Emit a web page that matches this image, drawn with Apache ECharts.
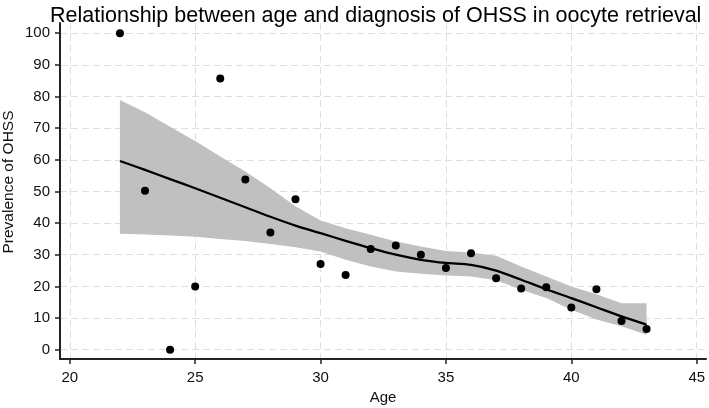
<!DOCTYPE html>
<html>
<head>
<meta charset="utf-8">
<script src="https://cdn.jsdelivr.net/npm/echarts@6/dist/echarts.min.js"></script>
<style>html,body{margin:0;padding:0;background:#fff;}#c{width:709px;height:408px;}</style>
</head>
<body>
<div id="c"></div>
<script>
const ages = [22,23,24,25,26,27,28,29,30,31,32,33,34,35,36,37,38,39,40,41,42,43];
const prevalence = [100,50.2,0,20,85.7,53.8,37,47.5,27.1,23.6,31.8,32.9,30.0,25.8,30.5,22.6,19.3,19.7,13.3,19.1,9.1,6.5];
const fitted = [59.6,56.8,53.9,51.0,48.0,45.0,42.0,39.2,36.8,34.4,32.1,30.0,28.4,27.4,26.8,25.0,22.1,19.1,16.3,13.4,10.5,7.9];
const ciUpper = [78.9,75.0,70.4,65.9,61.0,56.3,51.0,45.3,40.8,38.4,36.3,34.2,32.6,31.2,30.7,29.7,26.3,23.1,20.0,17.5,14.7,14.7];
const ciLower = [36.6,36.4,36.1,35.7,35.0,34.3,33.4,32.4,31.0,28.4,26.3,24.7,24.0,23.4,23.1,21.9,18.9,16.3,12.6,9.5,7.4,4.7];
const xTicks = [20,25,30,35,40,45];
const yTicks = [0,10,20,30,40,50,60,70,80,90,100];

const FONT = 'Liberation Sans, Arial, Helvetica, sans-serif';
const chart = echarts.init(document.getElementById('c'), null, {renderer: 'canvas'});

const pts = ages.map((a, i) => [a, prevalence[i]]);
const fitPts = ages.map((a, i) => [a, fitted[i]]);
const bandData = ages.map((a, i) => [a, ciLower[i], ciUpper[i]]);

const axisCommon = {
  axisLine: {show: true, onZero: false, lineStyle: {color: '#222', width: 2}},
  axisTick: {show: true, length: 5, lineStyle: {color: '#222', width: 1.5}},
  splitLine: {show: true, lineStyle: {color: '#dedede', width: 1, type: [7, 4]}},
  axisLabel: {color: '#111', fontSize: 15, fontFamily: FONT},
  nameTextStyle: {color: '#111', fontSize: 15, fontFamily: FONT}
};

chart.setOption({
  animation: false,
  backgroundColor: '#fff',
  title: {
    text: 'Relationship between age and diagnosis of OHSS in oocyte retrieval',
    left: 45, top: 0,
    textStyle: {color: '#000', fontSize: 21.5, fontWeight: 'normal', fontFamily: FONT}
  },
  grid: {left: 60, right: 3, top: 23, bottom: 49, containLabel: false, outerBoundsMode: 'none'},
  xAxis: Object.assign({}, axisCommon, {
    type: 'value', min: 19.61, max: 45.37,
    name: 'Age', nameLocation: 'middle', nameGap: 29,
    axisTick: Object.assign({}, axisCommon.axisTick, {customValues: xTicks}),
    axisLabel: Object.assign({}, axisCommon.axisLabel, {customValues: xTicks, margin: 11})
  }),
  yAxis: Object.assign({}, axisCommon, {
    type: 'value', min: -2.94, max: 103.2,
    axisTick: Object.assign({}, axisCommon.axisTick, {customValues: yTicks}),
    axisLabel: Object.assign({}, axisCommon.axisLabel, {customValues: yTicks, margin: 10})
  }),
  graphic: [{
    type: 'text', x: 9, y: 182, rotation: Math.PI / 2,
    style: {text: 'Prevalence of OHSS', fill: '#111', font: '15.5px ' + FONT, align: 'center', verticalAlign: 'middle'}
  }],
  series: [
    {
      name: '95% CI', type: 'custom', data: [0], silent: true, z: 1,
      renderItem: function (params, api) {
        const top = bandData.map(d => api.coord([d[0], d[2]]));
        const bottom = bandData.slice().reverse().map(d => api.coord([d[0], d[1]]));
        return {type: 'polygon', shape: {points: top.concat(bottom)}, style: {fill: '#c0c0c0', stroke: null}};
      }
    },
    {
      name: 'Fitted', type: 'line', data: fitPts, symbol: 'none', smooth: 0.3,
      lineStyle: {color: '#000', width: 2.3}, z: 3
    },
    {
      name: 'Prevalence', type: 'scatter', data: pts, symbol: 'circle', symbolSize: 8,
      itemStyle: {color: '#000', opacity: 1}, z: 4
    }
  ]
});
</script>
</body>
</html>
